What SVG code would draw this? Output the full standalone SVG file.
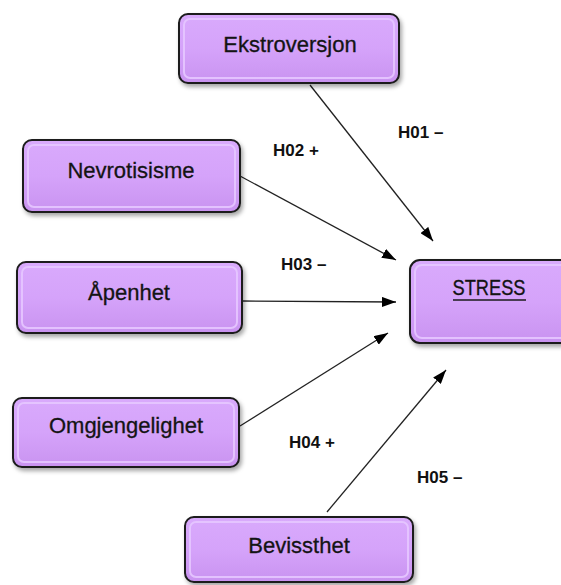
<svg xmlns="http://www.w3.org/2000/svg" width="561" height="585" viewBox="0 0 561 585">
<style>
.box{fill:url(#g);stroke:#1a1a1a;stroke-width:2;filter:url(#sh)}
.bev{fill:none;stroke:#e6c6ff;stroke-width:2;opacity:0.9}
.t{font-family:"Liberation Sans",Arial,sans-serif;font-size:22px;fill:#141414;stroke:#141414;stroke-width:0.3;text-anchor:middle}
.lbl{font-family:"Liberation Sans",Arial,sans-serif;font-size:17px;font-weight:bold;fill:#111}
.c{stroke:#222;stroke-width:1.3;fill:none;marker-end:url(#ah)}
</style>
<defs>
<linearGradient id="g" x1="0" y1="0" x2="0" y2="1">
<stop offset="0" stop-color="#d9aafc"/>
<stop offset="0.5" stop-color="#d5a3fa"/>
<stop offset="1" stop-color="#c993f0"/>
</linearGradient>
<filter id="sh" x="-10%" y="-10%" width="125%" height="130%">
<feDropShadow dx="2" dy="3" stdDeviation="2" flood-color="#000" flood-opacity="0.35"/>
</filter>
<marker id="ah" viewBox="0 0 14 10" refX="14" refY="5" markerWidth="14" markerHeight="10" markerUnits="userSpaceOnUse" orient="auto">
<path d="M0,0 L14,5 L0,10 z" fill="#000"/>
</marker>
</defs>
<rect width="561" height="585" fill="#fff"/>
<g id="connectors">
<line class="c" x1="310" y1="85" x2="433" y2="241"/>
<line class="c" x1="240" y1="176" x2="396" y2="260"/>
<line class="c" x1="242" y1="301" x2="396" y2="302"/>
<line class="c" x1="240" y1="426" x2="388" y2="333"/>
<line class="c" x1="327" y1="512" x2="446" y2="370"/>
</g>
<g id="labels">
<text class="lbl" x="398" y="138">H01 –</text>
<text class="lbl" x="273" y="156">H02 +</text>
<text class="lbl" x="281" y="270">H03 –</text>
<text class="lbl" x="289" y="448">H04 +</text>
<text class="lbl" x="417" y="483">H05 –</text>
</g>
<g id="ekstroversjon">
<rect class="box" x="179" y="14" width="220" height="69" rx="9"/>
<rect class="bev" x="184" y="19" width="210" height="59" rx="6"/>
<text class="t" x="290" y="52">Ekstroversjon</text>
</g>
<g id="nevrotisisme">
<rect class="box" x="23" y="140" width="217" height="72" rx="9"/>
<rect class="bev" x="28" y="145" width="207" height="62" rx="6"/>
<text class="t" x="131" y="178">Nevrotisisme</text>
</g>
<g id="apenhet">
<rect class="box" x="17" y="262" width="225" height="71" rx="9"/>
<rect class="bev" x="22" y="267" width="215" height="61" rx="6"/>
<text class="t" x="129" y="300">Åpenhet</text>
</g>
<g id="omgjengelighet">
<rect class="box" x="13" y="398" width="226" height="69" rx="9"/>
<rect class="bev" x="18" y="403" width="216" height="59" rx="6"/>
<text class="t" x="126" y="433">Omgjengelighet</text>
</g>
<g id="stress">
<rect class="box" x="410" y="260" width="170" height="83" rx="10"/>
<rect class="bev" x="415" y="265" width="160" height="73" rx="7"/>
<text class="t" x="489" y="295" textLength="73" lengthAdjust="spacingAndGlyphs">STRESS</text>
<line x1="453" y1="300" x2="526" y2="300" stroke="#1a1a1a" stroke-width="1.5"/>
</g>
<g id="bevissthet">
<rect class="box" x="185" y="517" width="228" height="65" rx="9"/>
<rect class="bev" x="190" y="522" width="218" height="55" rx="6"/>
<text class="t" x="299" y="553">Bevissthet</text>
</g>
</svg>
